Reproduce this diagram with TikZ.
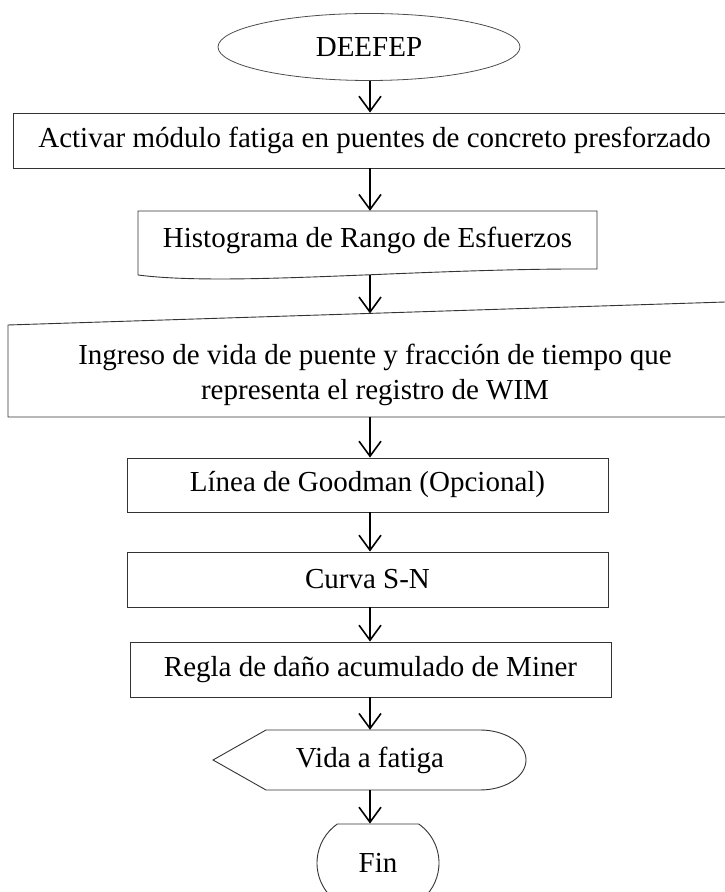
\documentclass[tikz,border=0pt]{standalone}
\usepackage{fontspec}
\setmainfont{Liberation Serif}
\usetikzlibrary{shapes.geometric,shapes.misc,arrows.meta}

\begin{document}
\begin{tikzpicture}[x=1pt,y=1pt,
  texto/.style={font=\fontsize{29pt}{35pt}\selectfont,inner sep=0pt,align=center},
  caja/.style={texto,draw=black!80,line width=0.9pt,rectangle},
  borde/.style={draw=black!80,line width=0.9pt},
  flecha/.style={line width=1.6pt,-{Straight Barb[length=15pt,width=22pt,line width=1.6pt]}}]
\useasboundingbox (0,0) rectangle (725,892);
\clip (0,0) rectangle (725,892);
\coordinate (eje) at (370,0);
\node[texto,ellipse,draw=black!70,line width=0.8pt,minimum width=302pt,minimum height=67pt] (inicio) at (369,845) {DEEFEP};
\node[caja,minimum width=723pt,minimum height=55pt] (activar) at (374.5,751.5) {Activar módulo fatiga en puentes de concreto presforzado};
\node[texto,minimum width=459pt,minimum height=58pt] (histo) at (367.5,652) {Histograma de Rango de Esfuerzos};
\draw[borde] (138,617) -- (138,681) -- (597,681) -- (597,623)
  .. controls (420,624) and (230,605) .. (138,617);
\coordinate (histola) at (370,616.5);
\draw[borde] (8,475) -- (8,567) -- (735,590.3) -- (735,475) -- cycle;
\node[texto,minimum height=85pt] (ingreso) at (375,517.5) {Ingreso de vida de puente y fracción de tiempo que\\representa el registro de WIM};
\coordinate (ingresotop) at (370,578.6);
\node[caja,minimum width=481pt,minimum height=54pt] (goodman) at (367.5,407) {Línea de Goodman (Opcional)};
\node[caja,minimum width=481pt,minimum height=55pt] (curva) at (367.5,312.5) {Curva S-N};
\node[caja,minimum width=481pt,minimum height=55pt] (miner) at (370.5,222.5) {Regla de daño acumulado de Miner};
\draw[borde] (213,132) -- (266,162) -- (480,162)
  arc[start angle=90,end angle=-90,x radius=46,y radius=30] -- (266,102) -- cycle;
\node[texto,minimum height=60pt] (vida) at (370,132) {Vida a fatiga};
\node[texto,rounded rectangle,rounded rectangle arc length=110,draw=black!80,line width=0.9pt,minimum width=122pt,minimum height=78pt] (fin) at (378,29) {Fin};
\draw[flecha] (eje |- inicio.south) -- (eje |- activar.north);
\draw[flecha] (eje |- activar.south) -- (eje |- histo.north);
\draw[flecha] (histola) -- (ingresotop);
\draw[flecha] (eje |- ingreso.south) -- (eje |- goodman.north);
\draw[flecha] (eje |- goodman.south) -- (eje |- curva.north);
\draw[flecha] (eje |- curva.south) -- (eje |- miner.north);
\draw[flecha] (eje |- miner.south) -- (eje |- vida.north);
\draw[flecha] (eje |- vida.south) -- (eje |- fin.north);
\end{tikzpicture}
\end{document}
